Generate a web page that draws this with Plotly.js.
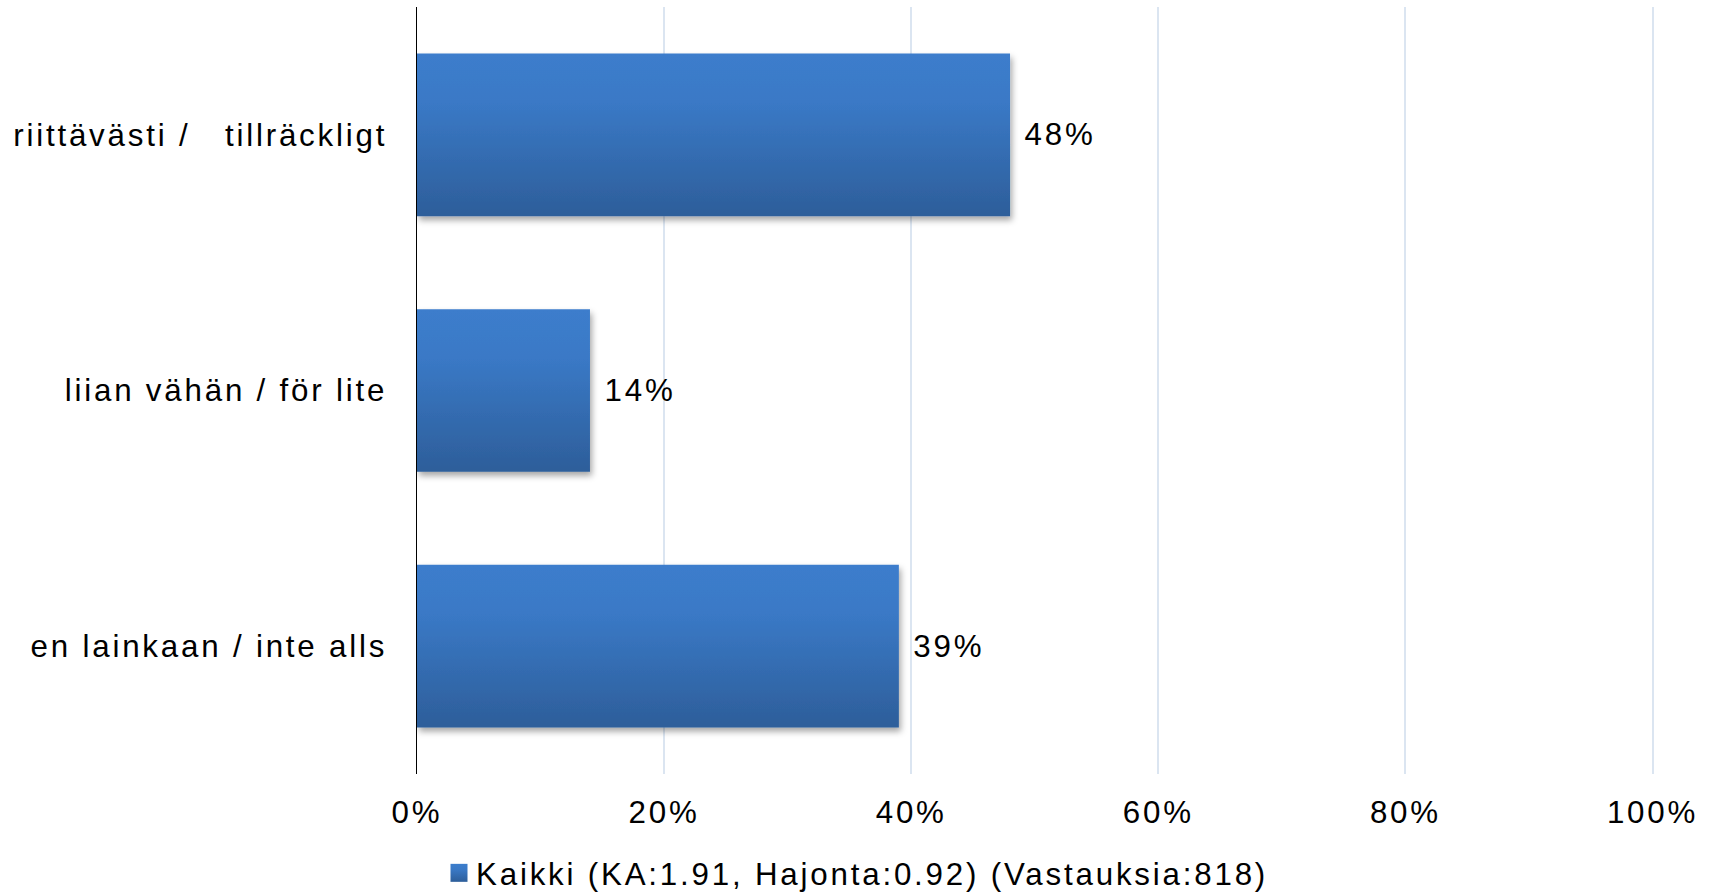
<!DOCTYPE html>
<html>
<head>
<meta charset="utf-8">
<script src="https://cdn.plot.ly/plotly-3.0.1.min.js"></script>
<style>
  html, body { margin: 0; padding: 0; background: #ffffff; }
  #chart { width: 1711px; height: 892px; }
  svg text { letter-spacing: 2.8px; }
</style>
</head>
<body>
<div id="chart"></div>
<script>
// ---- data (top to bottom as in the reference) ----
const categories = [
  "riittävästi /\u00a0\u00a0\u00a0tillräckligt",
  "liian vähän / för lite",
  "en lainkaan / inte alls"
];
const values = [0.48, 0.14, 0.39];
const seriesName = "Kaikki (KA:1.91, Hajonta:0.92) (Vastauksia:818)";
const xTickVals = [0, 0.2, 0.4, 0.6, 0.8, 1.0];
const xTickText = ["0%", "20%", "40%", "60%", "80%", "100%"];

const FONT = "Liberation Sans, Arial, Helvetica, sans-serif";
const FS = 31.3;

const trace = {
  type: "bar",
  orientation: "h",
  y: categories,
  x: values,
  name: seriesName,
  marker: { color: "#3670b8", line: { width: 0 } },
  texttemplate: "\u00a0%{x:.0%}",
  textposition: "outside",
  cliponaxis: false,
  textfont: { family: FONT, size: FS, color: "#000000" },
  hoverinfo: "skip"
};

const XMAX = 1.002;
const layout = {
  width: 1711,
  height: 892,
  paper_bgcolor: "#ffffff",
  plot_bgcolor: "#ffffff",
  font: { family: FONT, size: FS, color: "#000000" },
  margin: { l: 417, r: 55.5, t: 7, b: 118, pad: 0 },
  bargap: 0.364,
  showlegend: true,
  legend: {
    orientation: "h",
    xref: "container",
    yref: "container",
    x: 436 / 1711,
    xanchor: "left",
    y: (892 - 873) / 892,
    yanchor: "middle",
    font: { family: FONT, size: FS, color: "#000000" },
    bgcolor: "rgba(0,0,0,0)",
    borderwidth: 0
  },
  xaxis: {
    range: [0, XMAX],
    tickvals: xTickVals,
    ticktext: xTickText,
    showgrid: true,
    gridcolor: "#dbe5f1",
    gridwidth: 2,
    zeroline: false,
    showline: false,
    ticks: "",
    ticklabelstandoff: 17,
    automargin: false,
    fixedrange: true
  },
  yaxis: {
    type: "category",
    autorange: "reversed",
    showgrid: false,
    zeroline: false,
    showline: true,
    linecolor: "#000000",
    linewidth: 1.5,
    ticks: "",
    ticklabelstandoff: 22,
    automargin: false,
    fixedrange: true
  }
};

function styleBars(gd) {
  const svg = gd.querySelector(".main-svg");
  if (!svg) return;
  const ns = "http://www.w3.org/2000/svg";
  let defs = svg.querySelector("defs");
  if (!defs) {
    defs = document.createElementNS(ns, "defs");
    svg.insertBefore(defs, svg.firstChild);
  }
  if (!svg.querySelector("#barGrad")) {
    const g = document.createElementNS(ns, "linearGradient");
    g.setAttribute("id", "barGrad");
    g.setAttribute("x1", "0"); g.setAttribute("y1", "0");
    g.setAttribute("x2", "0"); g.setAttribute("y2", "1");
    [["0", "#3c7dcc"], ["0.3", "#3a79c6"], ["1", "#2d5e9a"]].forEach(([o, c]) => {
      const s = document.createElementNS(ns, "stop");
      s.setAttribute("offset", o); s.setAttribute("stop-color", c);
      g.appendChild(s);
    });
    defs.appendChild(g);
    const f = document.createElementNS(ns, "filter");
    f.setAttribute("id", "barShadow");
    f.setAttribute("x", "-5%"); f.setAttribute("y", "-10%");
    f.setAttribute("width", "115%"); f.setAttribute("height", "130%");
    const ds = document.createElementNS(ns, "feDropShadow");
    ds.setAttribute("dx", "2"); ds.setAttribute("dy", "4");
    ds.setAttribute("stdDeviation", "3");
    ds.setAttribute("flood-color", "#000000");
    ds.setAttribute("flood-opacity", "0.35");
    f.appendChild(ds);
    defs.appendChild(f);
  }
  gd.querySelectorAll(".trace.bars .point path").forEach(p => {
    p.style.fill = "url(#barGrad)";
    p.setAttribute("filter", "url(#barShadow)");
  });
  gd.querySelectorAll(".legend .legendpoints path").forEach(p => {
    p.setAttribute("d", "M11.5,9H-5.5V-9H11.5Z");
    p.style.fill = "url(#barGrad)";
  });
}

const gd = document.getElementById("chart");
Plotly.newPlot(gd, [trace], layout, { staticPlot: true, displayModeBar: false })
  .then(() => {
    styleBars(gd);
    gd.on("plotly_afterplot", () => styleBars(gd));
  });
</script>
</body>
</html>
